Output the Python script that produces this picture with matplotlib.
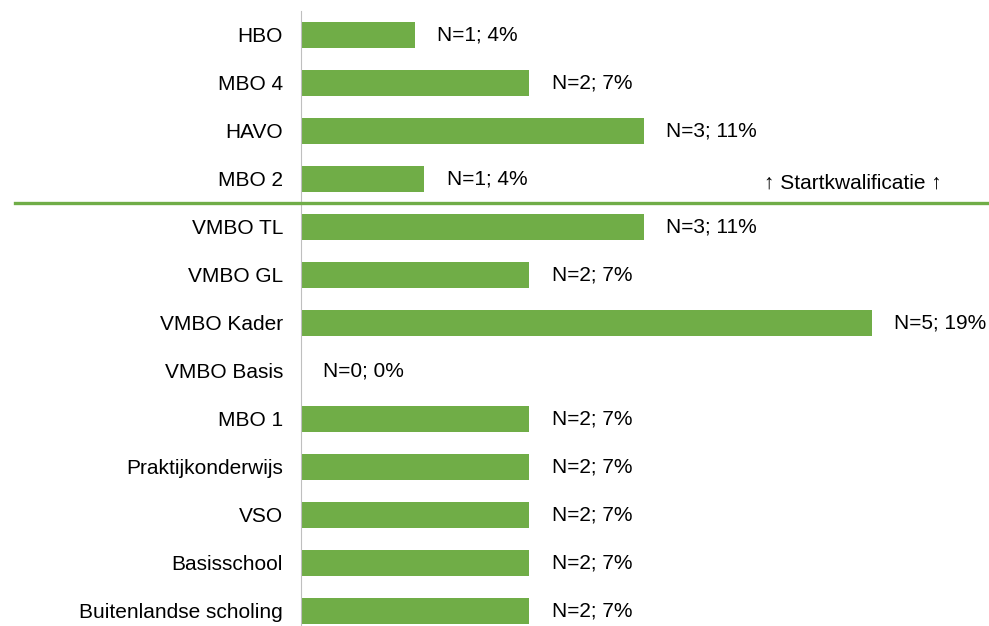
import matplotlib
matplotlib.use("Agg")
import matplotlib.pyplot as plt
import matplotlib.transforms as mtransforms

plt.rcParams["font.family"] = ["Liberation Sans", "DejaVu Sans"]

categories = ["HBO", "MBO 4", "HAVO", "MBO 2", "VMBO TL", "VMBO GL", "VMBO Kader",
              "VMBO Basis", "MBO 1", "Praktijkonderwijs", "VSO", "Basisschool",
              "Buitenlandse scholing"]
counts = [1, 2, 3, 1, 3, 2, 5, 0, 2, 2, 2, 2, 2]
percent = [3.7, 7.4, 11.1, 4.0, 11.1, 7.4, 18.5, 0, 7.4, 7.4, 7.4, 7.4, 7.4]
labels = ["N=1; 4%", "N=2; 7%", "N=3; 11%", "N=1; 4%", "N=3; 11%", "N=2; 7%",
          "N=5; 19%", "N=0; 0%", "N=2; 7%", "N=2; 7%", "N=2; 7%", "N=2; 7%", "N=2; 7%"]
divider_after = 3  # line between MBO 2 and VMBO TL
divider_text = "\u2191 Startkwalificatie \u2191"

GREEN = "#70AD47"
FS = 15
W, H = 989, 626

fig = plt.figure(figsize=(W / 100, H / 100), dpi=100)
ax = fig.add_axes([301 / W, 0, 1 - 301 / W, 1])

y = list(range(len(categories)))
ax.barh(y, percent, height=0.56, color=GREEN)
for yi, p, lab in zip(y, percent, labels):
    ax.annotate(lab, (p, yi), xytext=(16, 0), textcoords="offset points",
                ha="left", va="center", fontsize=FS, color="black")

# 48 px per category, first centre 35 px from the top
ax.set_ylim((H - 35) / 48, -35 / 48)
ax.set_xlim(0, (W - 301) / 30.86)
ax.set_yticks(y)
ax.set_yticklabels(categories, fontsize=FS)
ax.tick_params(axis="y", length=0, pad=13)
ax.set_xticks([])
for s in ["top", "right", "bottom"]:
    ax.spines[s].set_visible(False)
ax.spines["left"].set_color("#BFBFBF")
ax.spines["left"].set_bounds(-0.5, len(categories) - 0.5)

trans = mtransforms.blended_transform_factory(fig.transFigure, ax.transData)
yline = divider_after + 0.5
ax.plot([15 / W, 1], [yline, yline], transform=trans, color=GREEN, lw=2.4,
        clip_on=False, zorder=5)
ax.text(853 / W, yline - 0.42, divider_text, transform=trans, ha="center",
        va="center", fontsize=FS, color="black")

fig.savefig("out.png", dpi=100)
